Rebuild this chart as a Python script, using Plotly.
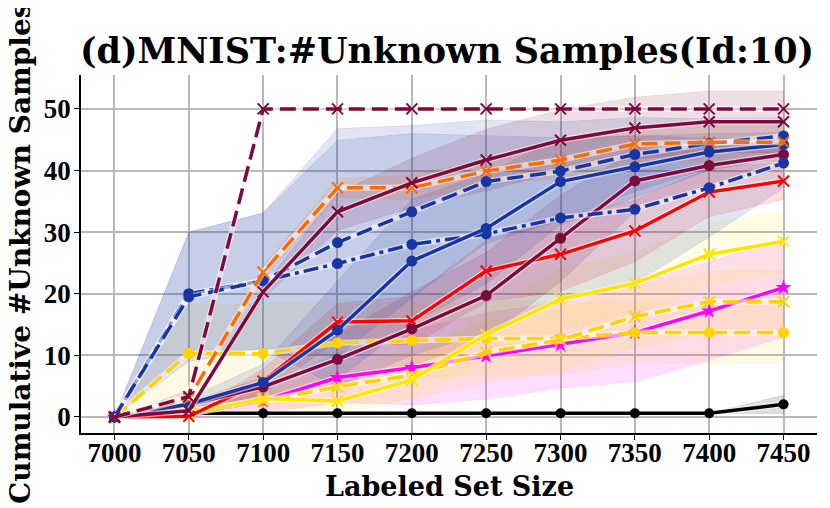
import plotly.graph_objects as go

x_vals = [7000, 7050, 7100, 7150, 7200, 7250, 7300, 7350, 7400, 7450]

maroon_dash_x = [0, 3.3, 50, 50, 50, 50, 50, 50, 50, 50]
maroon_dash_x_std = [0, 1, 0, 0, 0, 0, 0, 0, 0, 0]
maroon_solid_x = [0, 1, 20.3, 33.3, 38, 41.7, 44.9, 46.9, 47.9, 47.9]
maroon_solid_x_std = [0, 0.5, 1, 3, 4, 5, 5, 5, 5, 5]
orange_dash_x = [0, 3, 23.5, 37.2, 37.2, 39.9, 41.7, 44.3, 44.6, 44.6]
orange_dash_x_std = [0, 0.5, 1, 1.5, 2, 2, 3, 3, 3, 3]
blue_dash_o = [0, 19.5, 22.1, 28.3, 33.3, 38.2, 39.9, 42.6, 44.4, 45.6]
blue_dash_o_std = [0, 10.5, 11, 18.5, 14, 10, 8, 6, 4, 3]
blue_solid_o = [0, 2.1, 5.6, 14.1, 25.3, 30.6, 38.2, 40.6, 43.0, 44.2]
blue_solid_o_std = [0, 1, 3, 8, 10, 9, 7, 5, 3, 2]
blue_dashdot_o = [0, 20, 22.1, 24.9, 28, 29.7, 32.3, 33.7, 37.2, 41.2]
blue_dashdot_o_std = [0, 10, 11, 20, 18, 16, 13, 12, 8, 4]
maroon_solid_o = [0, 2, 4.9, 9.35, 14.3, 19.7, 29, 38.3, 40.8, 42.6]
maroon_solid_o_std = [0, 0.5, 1.5, 4, 6, 7, 7, 5, 3, 2]
red_solid_x = [0, 0.1, 5.8, 15.4, 15.6, 23.7, 26.4, 30.2, 36.5, 38.3]
red_solid_x_std = [0, 0.5, 2, 3, 4, 5, 6, 5, 4, 3]
yellow_solid_x = [0, 0.5, 3, 2.6, 6, 13.4, 19.1, 21.7, 26.4, 28.5]
yellow_solid_x_std = [0, 0.5, 1, 2, 3, 4, 5, 5, 5, 5]
yellow_dash_x = [0, 1, 2.6, 4.9, 6.8, 10.5, 12.5, 16.3, 18.7, 18.7]
yellow_dash_x_std = [0, 0.5, 1.5, 3, 4, 5, 5, 5, 5, 5]
gold_dash_o = [0, 10.3, 10.3, 12, 12.4, 12.75, 12.75, 13.7, 13.7, 13.7]
gold_dash_o_std = [0, 8, 8, 7, 6, 6, 6, 5, 5, 5]
magenta_solid_star = [0, 0.5, 2.6, 6.4, 8, 9.9, 11.7, 13.7, 17.2, 21]
magenta_solid_star_std = [0, 0.5, 2, 4, 6, 7, 7, 8, 8, 8]
black_solid_o = [0, 0.6, 0.6, 0.6, 0.6, 0.6, 0.6, 0.6, 0.6, 2.05]
black_solid_o_std = [0, 0, 0, 0, 0, 0, 0, 0, 0, 1.5]

title_text = "(d)MNIST:#Unknown Samples(Id:10)"
x_label = "Labeled Set Size"
y_label = "Cumulative #Unknown Samples"
y_ticks = [0, 10, 20, 30, 40, 50]

MAROON = "#7d0a3d"
ORANGE = "#ff6a00"
BLUE = "#1836a3"
RED = "#ff0000"
YELLOW = "#ffe600"
GOLD = "#ffd200"
MAGENTA = "#ff00ff"
BLACK = "#000000"

series = [
    (black_solid_o, black_solid_o_std, BLACK, "solid", "circle"),
    (magenta_solid_star, magenta_solid_star_std, MAGENTA, "solid", "star"),
    (gold_dash_o, gold_dash_o_std, GOLD, "dash", "circle"),
    (yellow_dash_x, yellow_dash_x_std, GOLD, "dash", "x"),
    (yellow_solid_x, yellow_solid_x_std, YELLOW, "solid", "x"),
    (red_solid_x, red_solid_x_std, RED, "solid", "x"),
    (maroon_solid_o, maroon_solid_o_std, MAROON, "solid", "circle"),
    (blue_dashdot_o, blue_dashdot_o_std, BLUE, "dashdot", "circle"),
    (blue_solid_o, blue_solid_o_std, BLUE, "solid", "circle"),
    (blue_dash_o, blue_dash_o_std, BLUE, "dash", "circle"),
    (orange_dash_x, orange_dash_x_std, ORANGE, "dash", "x"),
    (maroon_solid_x, maroon_solid_x_std, MAROON, "solid", "x"),
    (maroon_dash_x, maroon_dash_x_std, MAROON, "dash", "x"),
]


def rgba(hexc, a):
    h = hexc.lstrip("#")
    r, g, b = int(h[0:2], 16), int(h[2:4], 16), int(h[4:6], 16)
    return f"rgba({r},{g},{b},{a})"


fig = go.Figure()

for mean, std, color, dash, sym in series:
    upper = [m + s for m, s in zip(mean, std)]
    lower = [m - s for m, s in zip(mean, std)]
    alpha = 0.13
    if color in (YELLOW, GOLD):
        alpha = 0.1
    fig.add_trace(go.Scatter(
        x=x_vals + x_vals[::-1], y=upper + lower[::-1],
        fill="toself", fillcolor=rgba(color, alpha),
        line=dict(width=0.8, color=rgba(color, 0.12)), mode="lines",
        hoverinfo="skip", showlegend=False))

dash_map = {"solid": "solid", "dash": "16px,7px", "dashdot": "15px,5px,4px,5px"}

for mean, std, color, dash, sym in series:
    fig.add_trace(go.Scatter(
        x=x_vals, y=mean, mode="lines",
        line=dict(color="rgba(255,255,255,0.55)", width=6),
        hoverinfo="skip", showlegend=False))
    if sym == "x":
        marker = dict(symbol="x-thin", size=11, line=dict(color=color, width=2), color=color)
    elif sym == "star":
        marker = dict(symbol="star", size=12, color=color)
    else:
        marker = dict(symbol="circle", size=11 if color != BLACK else 10, color=color)
    fig.add_trace(go.Scatter(
        x=x_vals, y=mean, mode="lines+markers",
        line=dict(color=color, width=3.5, dash=dash_map[dash]),
        marker=marker, showlegend=False))

TICKFONT = "Liberation Serif"
LABELFONT = "DejaVu Serif"
# the page body has an 8px margin, so the figure is 8px smaller and offset
OFF = 8
W, H = 830 - OFF, 508 - OFF
ML, MT = 81 - OFF, 75 - OFF
PW, PH = 736, 358
MR, MB = W - ML - PW, H - MT - PH

fig.update_layout(
    width=W, height=H,
    margin=dict(l=ML, r=MR, t=MT, b=MB, autoexpand=False),
    paper_bgcolor="white", plot_bgcolor="white",
    font=dict(family=TICKFONT, color="black", weight="bold"),
    annotations=[
        dict(text=title_text, xref="paper", yref="paper",
             x=0.497, y=1 + (75 - 50) / PH, xanchor="center", yanchor="middle",
             showarrow=False, font=dict(family=LABELFONT, size=35, color="black", weight="bold")),
        dict(text=x_label, xref="paper", yref="paper",
             x=0.5, y=-(486 - 433) / PH, xanchor="center", yanchor="middle",
             showarrow=False, font=dict(family=LABELFONT, size=27, color="black", weight="bold")),
        dict(text=y_label, xref="paper", yref="paper", textangle=-90,
             x=-(81 - 20) / PW, y=0.5, xanchor="center", yanchor="middle",
             showarrow=False, font=dict(family=LABELFONT, size=28, color="black", weight="bold")),
    ],
)

fig.update_xaxes(
    range=[6977.5, 7472.5], tickvals=x_vals, ticktext=[str(v) for v in x_vals],
    showgrid=True, gridcolor="#b8b8b8", gridwidth=1.5,
    showline=True, linecolor="black", linewidth=1.5, mirror=False,
    ticks="outside", ticklen=5, tickwidth=1, tickcolor="black",
    tickfont=dict(family=TICKFONT, size=27, weight="bold"),
    ticklabelstandoff=-10,
    zeroline=False, automargin=False,
)
fig.update_yaxes(
    range=[-2.6, 55.5], tickvals=y_ticks,
    showgrid=True, gridcolor="#b8b8b8", gridwidth=1.5,
    showline=True, linecolor="black", linewidth=1.5, mirror=False,
    ticks="outside", ticklen=5, tickwidth=1, tickcolor="black",
    tickfont=dict(family=TICKFONT, size=27, weight="bold"),
    ticklabelstandoff=-2,
    zeroline=False, automargin=False,
)

fig.write_html("out.html")
